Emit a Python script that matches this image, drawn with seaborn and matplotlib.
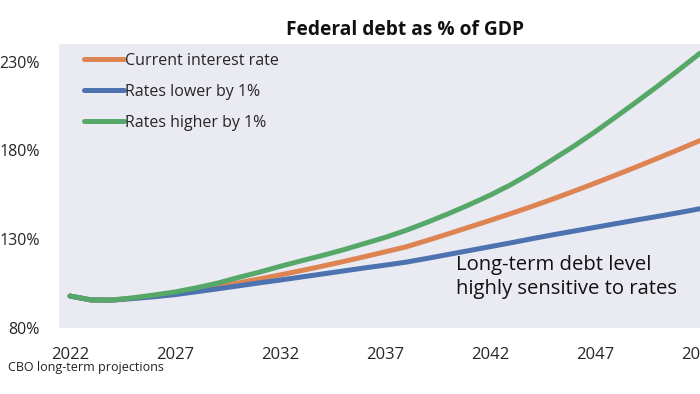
import matplotlib
matplotlib.use("Agg")
import matplotlib.pyplot as plt
import pandas as pd
import seaborn as sns

years = list(range(2022, 2053))

current_rate = [98.0, 95.8, 95.7, 96.8, 98.0, 99.5, 101.3, 103.3, 105.4, 107.6,
                109.9, 112.3, 114.8, 117.4, 120.1, 122.9, 125.7, 129.3, 133.0, 136.8,
                140.6, 144.5, 148.5, 152.7, 157.1, 161.6, 166.2, 170.9, 175.7, 180.6,
                185.6]
rates_lower = [98.0, 95.8, 95.7, 96.6, 97.6, 98.8, 100.4, 102.0, 103.7, 105.4,
               107.0, 108.7, 110.4, 112.1, 113.8, 115.4, 117.1, 119.2, 121.4, 123.6,
               125.8, 128.0, 130.3, 132.5, 134.6, 136.7, 138.8, 140.9, 142.9, 145.0,
               147.2]
rates_higher = [98.0, 95.8, 95.8, 97.0, 98.6, 100.3, 102.6, 105.2, 108.4, 111.4,
                114.7, 117.8, 120.8, 124.0, 127.5, 131.0, 135.0, 139.5, 144.3, 149.4,
                154.8, 160.8, 167.6, 175.0, 182.5, 190.5, 199.0, 207.6, 216.4, 225.5,
                234.8]

scenarios = ["Current interest rate", "Rates lower by 1%", "Rates higher by 1%"]
colors = ["#DD8452", "#4C72B0", "#55A868"]
y_ticks = [80, 130, 180, 230]
x_ticks = [2022, 2027, 2032, 2037, 2042, 2047, 2052]

df = pd.concat([
    pd.DataFrame({"year": years, "debt": vals, "scenario": name})
    for name, vals in zip(scenarios, [current_rate, rates_lower, rates_higher])
])

sns.set_style("dark")
plt.rcParams["font.family"] = ["Open Sans", "DejaVu Sans"]

fig = plt.figure(figsize=(7, 3.94), dpi=100)
ax = fig.add_axes([59 / 700, 66 / 394, 661 / 700, 284 / 394])

sns.lineplot(data=df, x="year", y="debt", hue="scenario", hue_order=scenarios,
             palette=dict(zip(scenarios, colors)), linewidth=3.6, ax=ax)

ax.set_xlim(2022 - 11 / 21, 2022 + 650 / 21)
ax.set_ylim(80, 240)
ax.set_xticks(x_ticks)
ax.set_yticks(y_ticks)
ax.set_yticklabels([f"{v}%" for v in y_ticks], fontsize=11.5)
ax.set_xticklabels([str(v) for v in x_ticks], fontsize=12)
ax.tick_params(axis="y", pad=14, length=0)
ax.tick_params(axis="x", pad=14, length=0)
ax.set_xlabel("")
ax.set_ylabel("")
for s in ax.spines.values():
    s.set_visible(False)

leg = ax.legend(loc="upper left", bbox_to_anchor=(0.016, 1.02), frameon=False,
                fontsize=11.5, handlelength=2.5, handletextpad=0.1,
                labelspacing=0.95)
for line in leg.get_lines():
    line.set_linewidth(3.6)

ax.text(2040.4, 121, "Long-term debt level\nhighly sensitive to rates",
        fontsize=14.6, va="top", ha="left", linespacing=1.25, color="#111111")

fig.text(405 / 700, 1 - 30 / 394, "Federal debt as % of GDP", ha="center",
         va="center", fontsize=13.8, fontweight="bold", color="#111111")
fig.text(8 / 700, 1 - 368 / 394, "CBO long-term projections", ha="left",
         va="center", fontsize=9, color="#222222")

fig.savefig("out.png", dpi=100)
